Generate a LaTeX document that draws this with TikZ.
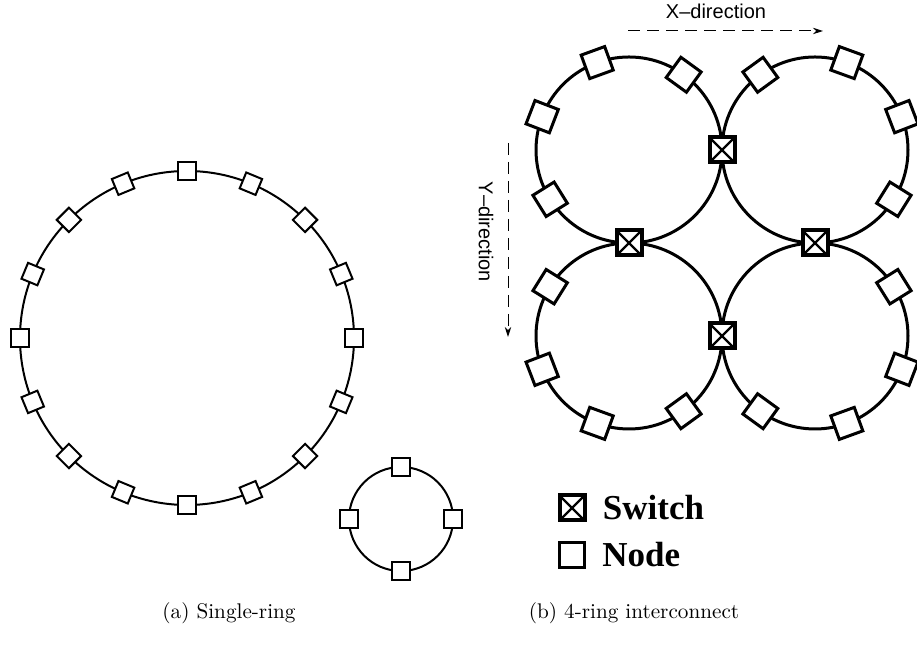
\documentclass[tikz,border=0pt]{standalone}
\usepackage{fontspec}
\newfontfamily\dirfont[Ligatures=TeX]{Liberation Sans}
\newfontfamily\legendfont{Liberation Serif}
\usetikzlibrary{arrows.meta, positioning, calc}

\tikzset{
  smallnode/.style={draw, fill=white, line width=1pt, minimum size=8.6pt, inner sep=0pt},
  ringnode/.style={draw, fill=white, line width=1.5pt, minimum size=12.5pt, inner sep=0pt},
  switchbox/.style={draw, fill=white, line width=2pt, minimum size=12.5pt, inner sep=0pt,
    path picture={
      \draw[line width=1.1pt] (path picture bounding box.north west) -- (path picture bounding box.south east)
        (path picture bounding box.north east) -- (path picture bounding box.south west);
    }},
  dirarrow/.style={-{Stealth[length=5pt, width=3.2pt]}, dash pattern=on 6pt off 3.5pt, line width=0.5pt},
  dirlabel/.style={font=\dirfont\fontsize{10}{12}\selectfont, inner sep=0pt},
  legendlabel/.style={font=\legendfont\bfseries\fontsize{17.5}{20}\selectfont, inner sep=0pt},
  caption/.style={font=\fontsize{10.6}{13}\selectfont},
}

\begin{document}
\begin{tikzpicture}[x=0.5pt, y=0.5pt]
  \useasboundingbox (0,0) rectangle (917,657);

  % Single ring, 16 nodes
  \coordinate (big) at (187,319);
  \draw[line width=1pt] (big) circle (167);
  \foreach \i in {0,...,15} {
    \node[smallnode, rotate=\i*22.5] (s\i) at ([shift={(\i*22.5:167)}]big) {};
  }

  % Small ring, 4 nodes
  \coordinate (small) at (401,138);
  \draw[line width=1pt] (small) circle (52);
  \foreach \a in {0,90,180,270} {
    \node[smallnode] (t\a) at ([shift={(\a:52)}]small) {};
  }

  % 4-ring interconnect
  \foreach \n/\cx/\cy in {tl/629/507, tr/815/507, bl/629/321, br/815/321} {
    \coordinate (\n) at (\cx,\cy);
    \draw[line width=1.5pt] (\n) circle (93);
  }
  \foreach \a in {54,110,159,212} {
    \node[ringnode, rotate=\a] (tl\a) at ([shift={(\a:93)}]tl) {};
    \node[ringnode, rotate=180-\a] (tr\a) at ([shift={(180-\a:93)}]tr) {};
    \node[ringnode, rotate=-\a] (bl\a) at ([shift={(-\a:93)}]bl) {};
    \node[ringnode, rotate=180+\a] (br\a) at ([shift={(180+\a:93)}]br) {};
  }

  % Switches where the rings meet
  \node[switchbox] (swtop) at ($(tl)!0.5!(tr)$) {};
  \node[switchbox] (swbot) at ($(bl)!0.5!(br)$) {};
  \node[switchbox] (swleft) at ($(tl)!0.5!(bl)$) {};
  \node[switchbox] (swright) at ($(tr)!0.5!(br)$) {};

  % Directions
  \coordinate (xs) at (628,626);
  \coordinate (xe) at (823,626);
  \draw[dirarrow] (xs) -- (xe);
  \node[dirlabel] (xlab) at (716,646) {X--direction};

  \coordinate (ys) at (508,514);
  \coordinate (ye) at (508,320);
  \draw[dirarrow] (ys) -- (ye);
  \node[dirlabel, rotate=-90] (ylab) at (486,425) {Y--direction};

  % Legend
  \node[switchbox] (legsw) at (572,149) {};
  \node[legendlabel, right=8pt of legsw] (legswtext) {Switch};
  \node[ringnode] (legnode) at (572,102) {};
  \node[legendlabel, right=8pt of legnode] (legnodetext) {Node};

  % Captions
  \node[caption] (capa) at (229,44) {(a) Single-ring};
  \node[caption] (capb) at (634,44) {(b) 4-ring interconnect};
\end{tikzpicture}
\end{document}
